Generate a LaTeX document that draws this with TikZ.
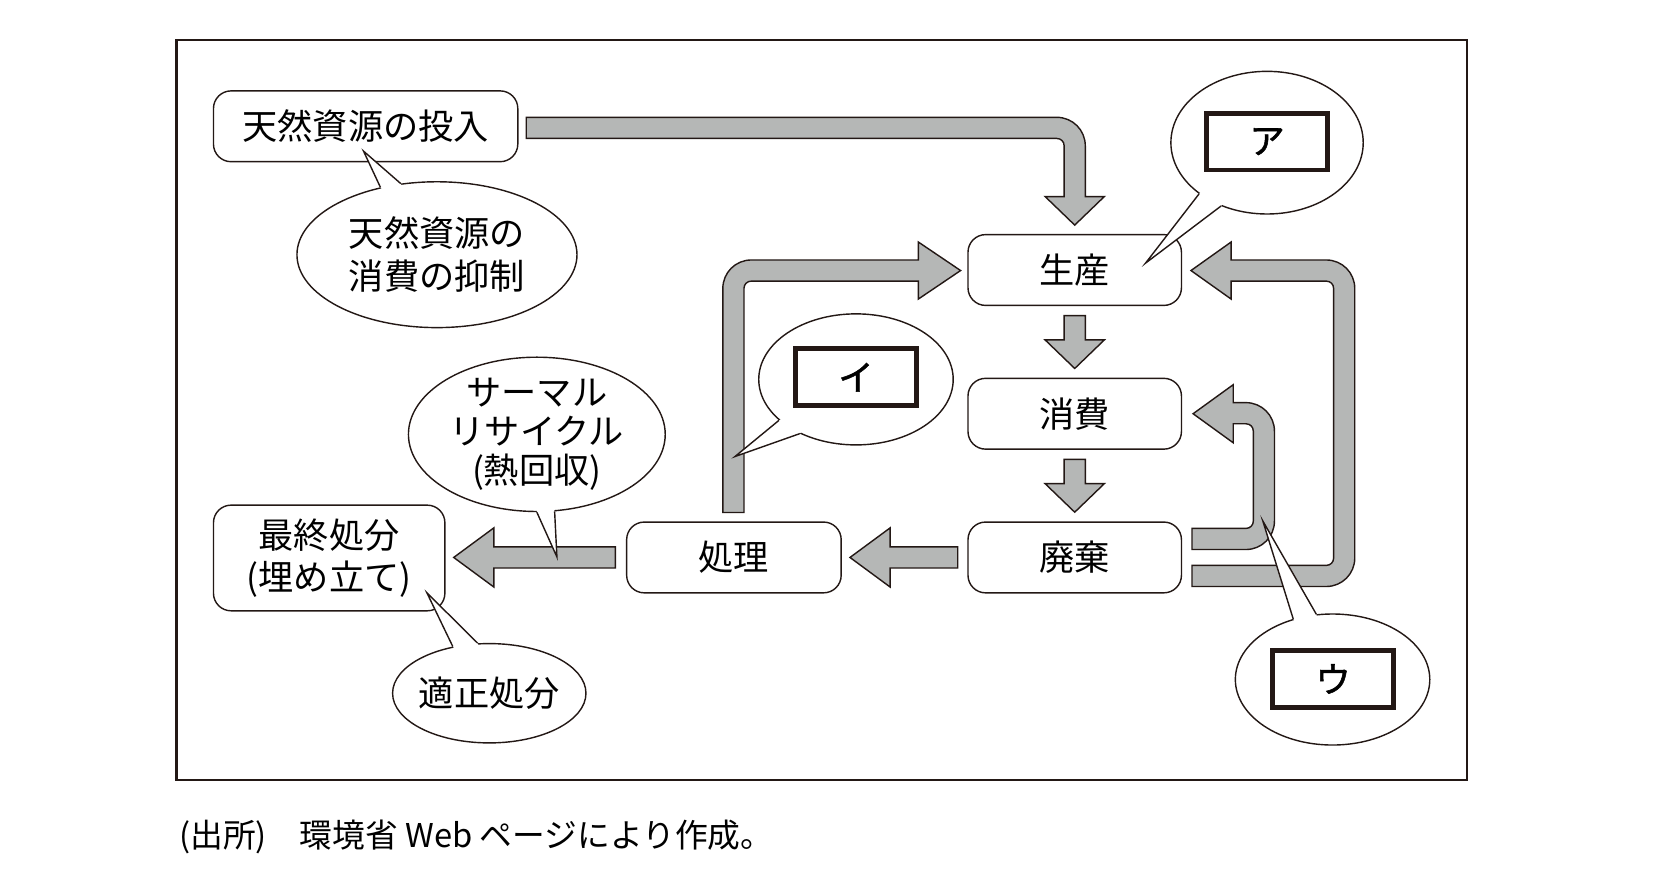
\documentclass[tikz,border=0pt]{standalone}
\usepackage{fontspec}
\setmainfont{Noto Sans CJK JP}
\newfontfamily\kanabold[FakeBold=1.5]{Noto Sans CJK JP}
\usepackage{tikz}
\usetikzlibrary{shapes.geometric,calc}

\definecolor{inkline}{RGB}{35,24,21}
\definecolor{arrowgray}{RGB}{181,183,182}

% speech bubble tail: node, two border angles, tip
\newcommand{\calltail}[4]{%
  \fill[white] (#1.#2) -- (#4) -- (#1.#3) -- ($(#1.#3)!0.1!(#1.center)$) -- ($(#1.#2)!0.1!(#1.center)$) -- cycle;
  \draw[thinline] (#1.#2) -- (#4) -- (#1.#3);}

\begin{document}
\begin{tikzpicture}[x=0.3pt,y=-0.3pt]
\tikzset{stage/.style = {shape=rectangle,rounded corners=5pt,draw=inkline,line width=0.4pt,fill=white,minimum width=60.6pt,minimum height=20.1pt,inner sep=0pt,align=center,font=\fontsize{10}{12}\selectfont}}
\tikzset{bubble/.style = {shape=ellipse,draw=inkline,line width=0.4pt,fill=white,inner sep=0pt}}
\tikzset{bubbletext/.style = {inner sep=0pt,align=center,font=\fontsize{10}{12.3}\selectfont}}
\tikzset{blank/.style = {shape=rectangle,draw=inkline,line width=1.4pt,fill=white,minimum width=34.4pt,minimum height=16.1pt,inner sep=0pt,font=\kanabold\fontsize{10}{12}\selectfont}}
\tikzset{blockarrow/.style = {draw=inkline,line width=0.4pt,fill=arrowgray}}
\tikzset{thinline/.style = {draw=inkline,line width=0.4pt}}

\fill[white] (0,0) rectangle (1568,835);
\useasboundingbox (0,0) rectangle (1568,835);
\draw[inkline,line width=0.7pt] (167,38) rectangle (1388,738);

% stages
\node[stage,minimum width=86.4pt] (input) at (346,119.5) {天然資源の投入};
\node[stage] (seisan) at (1017,255.5) {生産};
\node[stage] (shouhi) at (1017,391.5) {消費};
\node[stage] (haiki) at (1017,527.5) {廃棄};
\node[stage,minimum width=60.9pt] (shori) at (694.5,527.5) {処理};
\node[stage,minimum width=65.7pt,minimum height=30pt] (saishu) at (311.5,528) {最終処分\\(埋め立て)};

% straight block arrows
\draw[blockarrow] ([shift={(-10,9)}]seisan.south) -- ++(20,0) -- ++(0,23) -- ++(18,0) -- ++(-28,27) -- ++(-28,-27) -- ++(18,0) -- cycle;
\draw[blockarrow] ([shift={(-10,9)}]shouhi.south) -- ++(20,0) -- ++(0,23) -- ++(18,0) -- ++(-28,27) -- ++(-28,-27) -- ++(18,0) -- cycle;
\draw[blockarrow] ([shift={(-9,-10)}]haiki.west) -- ++(-64,0) -- ++(0,-18) -- ++(-38,28) -- ++(38,28) -- ++(0,-18) -- ++(64,0) -- cycle;
\draw[blockarrow] ([shift={(-10,-10)}]shori.west) -- ++(-115,0) -- ++(0,-18) -- ++(-38,28) -- ++(38,28) -- ++(0,-18) -- ++(115,0) -- cycle;

% bent block arrows
\draw[blockarrow] (498,111) -- (1000,111) .. controls (1015,111) and (1027,123) .. (1027,138) -- (1027,186) -- (1045,186) -- (1017,213) -- (989,186) -- (1007,186) -- (1007,138) .. controls (1007,134) and (1004,131) .. (1000,131) -- (498,131) -- cycle;
\draw[blockarrow] (684,485) -- (684,273) .. controls (684,258) and (696,246) .. (711,246) -- (869,246) -- (869,229) -- (909,256) -- (869,283) -- (869,266) -- (711,266) .. controls (707,266) and (704,269) .. (704,273) -- (704,485) -- cycle;
\draw[blockarrow] (1128,535) -- (1255,535) .. controls (1259,535) and (1262,532) .. (1262,528) -- (1262,273) .. controls (1262,269) and (1259,266) .. (1255,266) -- (1165,266) -- (1165,283) -- (1127,256) -- (1165,229) -- (1165,246) -- (1255,246) .. controls (1270,246) and (1282,258) .. (1282,273) -- (1282,528) .. controls (1282,543) and (1270,555) .. (1255,555) -- (1128,555) -- cycle;
\draw[blockarrow] (1128,500) -- (1179,500) .. controls (1183,500) and (1186,497) .. (1186,493) -- (1186,408) .. controls (1186,404) and (1183,401) .. (1179,401) -- (1167,401) -- (1167,419) -- (1129,391.5) -- (1167,364) -- (1167,381) -- (1179,381) .. controls (1194,381) and (1206,393) .. (1206,408) -- (1206,493) .. controls (1206,508) and (1194,520) .. (1179,520) -- (1128,520) -- cycle;

% callouts
\node[bubble,minimum width=79.5pt,minimum height=41.4pt] (yokusei) at (413.5,241) {};
\node[bubble,minimum width=54.6pt,minimum height=40.5pt] (callA) at (1199,135) {};
\node[bubble,minimum width=55.2pt,minimum height=37.2pt] (callI) at (810,359) {};
\node[bubble,minimum width=55.2pt,minimum height=37.2pt] (callU) at (1261,643) {};
\node[bubble,minimum width=72.9pt,minimum height=43.8pt] (thermal) at (508,411) {};
\node[bubble,minimum width=54.9pt,minimum height=28.2pt] (tekisei) at (463,656) {};

\coordinate (tipY) at (344,143);
\coordinate (tipA) at (1084,249);
\coordinate (tipI) at (695.5,432);
\coordinate (tipU) at (1195,493);
\coordinate (tipT) at (527,527);
\coordinate (tipK) at (404,561);
\calltail{yokusei}{130}{117}{tipY}
\calltail{callA}{217}{234}{tipA}
\calltail{callI}{208}{224}{tipI}
\calltail{callU}{123}{104}{tipU}
\calltail{thermal}{270}{283}{tipT}
\calltail{tekisei}{128}{103}{tipK}

\node[bubbletext] (yokuseitxt) at (yokusei) {天然資源の\\消費の抑制};
\node[bubbletext,font=\fontsize{10}{11}\selectfont] (thermaltxt) at (thermal) {サーマル\\リサイクル\\(熱回収)};
\node[bubbletext] (tekiseitxt) at (tekisei) {適正処分};
\node[blank] (boxA) at (1199,134) {ア};
\node[blank] (boxI) at (810,357) {イ};
\node[blank] (boxU) at (1261.5,642.5) {ウ};

% source line
\node[anchor=west,inner sep=0pt,font=\fontsize{9.3}{11}\selectfont] (source) at (169,792) {(出所)\hspace{1em}環境省 Web ページにより作成。};
\end{tikzpicture}
\end{document}
